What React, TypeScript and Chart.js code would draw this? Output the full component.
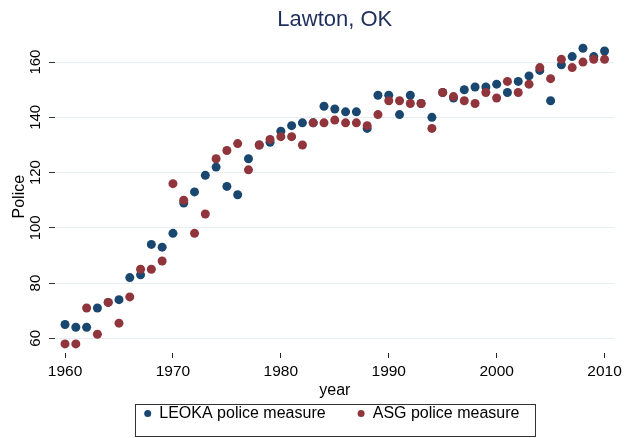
import React, { useEffect, useRef } from "react";
import { Chart, registerables } from "chart.js";

Chart.register(...registerables);

const years = [
  1960, 1961, 1962, 1963, 1964, 1965, 1966, 1967, 1968, 1969,
  1970, 1971, 1972, 1973, 1974, 1975, 1976, 1977, 1978, 1979,
  1980, 1981, 1982, 1983, 1984, 1985, 1986, 1987, 1988, 1989,
  1990, 1991, 1992, 1993, 1994, 1995, 1996, 1997, 1998, 1999,
  2000, 2001, 2002, 2003, 2004, 2005, 2006, 2007, 2008, 2009, 2010,
];

const leoka = [
  65, 64, 64, 71, 73, 74, 82, 83, 94, 93,
  98, 109, 113, 119, 122, 115, 112, 125, 130, 131,
  135, 137, 138, 138, 144, 143, 142, 142, 136, 148,
  148, 141, 148, 145, 140, 149, 147, 150, 151, 151,
  152, 149, 153, 155, 157, 146, 159, 162, 165, 162, 164,
];

const asg = [
  58, 58, 71, 61.5, 73, 65.5, 75, 85, 85, 88,
  116, 110, 98, 105, 125, 128, 130.5, 121, 130, 132,
  133, 133, 130, 138, 138, 139, 138, 138, 137, 141,
  146, 146, 145, 145, 136, 149, 147.5, 146, 145, 149,
  147, 153, 149, 152, 158, 154, 161, 158, 160, 161, 161,
];

const xTicks = [1960, 1970, 1980, 1990, 2000, 2010];
const yTicks = [60, 80, 100, 120, 140, 160];

const FONT = "'Liberation Sans', Arial, Helvetica, sans-serif";

// Custom legend drawn below the x axis, centred on the plot area, with a framed box.
const boxedLegend = {
  id: "boxedLegend",
  afterDraw(chart: any) {
    const ctx = chart.ctx;
    const area = chart.chartArea;
    const ds = chart.data.datasets;
    const font = `16px ${FONT}`;
    ctx.save();
    ctx.font = font;
    const dotR = 3.5;
    const padL = 12.7; // box edge to first dot centre
    const dotToText = 11.6;
    const itemGap = 32;
    const padR = 15;
    const widths = ds.map((d: any) => ctx.measureText(d.label).width);
    let total = padL + padR;
    widths.forEach((w: number, i: number) => {
      total += dotToText + w;
      if (i > 0) total += itemGap + dotR;
    });
    const cx = (area.left + area.right) / 2;
    const left = Math.round(cx - total / 2);
    const right = Math.round(cx + total / 2);
    const cy = 413.5 - 438 + chart.height;
    const top = Math.round(cy - 9.5);
    const bottom = chart.height - 2;
    ctx.strokeStyle = "#333333";
    ctx.lineWidth = 1;
    ctx.strokeRect(left + 0.5, top + 0.5, right - left, bottom - top);
    let x = left + padL;
    ds.forEach((d: any, i: number) => {
      if (i > 0) x += itemGap + dotR;
      ctx.beginPath();
      ctx.fillStyle = d.backgroundColor;
      ctx.arc(x, cy, dotR, 0, Math.PI * 2);
      ctx.fill();
      ctx.fillStyle = "#000000";
      ctx.textAlign = "left";
      ctx.textBaseline = "middle";
      ctx.fillText(d.label, x + dotToText, cy + 0.5);
      x += dotToText + widths[i];
    });
    ctx.restore();
  },
};

export default function App() {
  const ref = useRef<HTMLCanvasElement | null>(null);

  useEffect(() => {
    if (!ref.current) return;
    const chart = new Chart(ref.current, {
      type: "scatter",
      data: {
        datasets: [
          {
            label: "LEOKA police measure",
            data: years.map((x, i) => ({ x, y: leoka[i] })),
            backgroundColor: "#1a476f",
            borderColor: "#1a476f",
            borderWidth: 0,
            pointRadius: 4.5,
            order: 1,
          },
          {
            label: "ASG police measure",
            data: years.map((x, i) => ({ x, y: asg[i] })),
            backgroundColor: "#90353b",
            borderColor: "#90353b",
            borderWidth: 0,
            pointRadius: 4.5,
            order: 0,
          },
        ],
      },
      plugins: [boxedLegend],
      options: {
        animation: false,
        responsive: false,
        maintainAspectRatio: false,
        layout: { padding: { left: 0, right: 11, top: 0, bottom: 40 } },
        plugins: {
          tooltip: { enabled: false },
          legend: { display: false },
          title: {
            display: true,
            text: "Lawton, OK",
            color: "#1e2f5c",
            fullSize: false,
            font: { family: FONT, size: 22, weight: "normal" },
            padding: { top: 7, bottom: 7 },
          },
        },
        scales: {
          x: {
            type: "linear",
            min: 1959.07,
            max: 2010.93,
            afterBuildTicks: (scale: any) => {
              scale.ticks = xTicks.map((v) => ({ value: v }));
            },
            afterFit: (scale: any) => {
              scale.height = 45;
            },
            border: { display: false },
            grid: {
              drawOnChartArea: false,
              drawTicks: true,
              tickLength: 5,
              tickColor: "#222222",
            },
            ticks: {
              color: "#000000",
              font: { family: FONT, size: 15.5 },
              padding: 4,
              maxRotation: 0,
              autoSkip: false,
              callback: (v: any) => String(v),
            },
            title: {
              display: true,
              text: "year",
              color: "#000000",
              font: { family: FONT, size: 16 },
              padding: { top: 0, bottom: -2 },
            },
          },
          y: {
            type: "linear",
            min: 54.7,
            max: 167.85,
            afterBuildTicks: (scale: any) => {
              scale.ticks = yTicks.map((v) => ({ value: v }));
            },
            afterFit: (scale: any) => {
              scale.width = 55;
            },
            border: { display: false },
            grid: {
              color: "#e6eef2",
              lineWidth: 1,
              drawTicks: true,
              tickLength: 6,
              tickColor: "#333333",
            },
            ticks: {
              color: "#000000",
              font: { family: FONT, size: 15 },
              minRotation: 90,
              maxRotation: 90,
              crossAlign: "center",
              padding: 1,
              autoSkip: false,
            },
            title: {
              display: true,
              text: "Police",
              color: "#000000",
              font: { family: FONT, size: 16 },
              padding: { top: 10, bottom: 0 },
            },
          },
        },
      },
    } as any);
    return () => chart.destroy();
  }, []);

  return (
    <div style={{ position: "absolute", left: 0, top: 0, width: 626, height: 438, background: "#ffffff" }}>
      <canvas ref={ref} width={626} height={438} style={{ display: "block", width: 626, height: 438 }} />
    </div>
  );
}
